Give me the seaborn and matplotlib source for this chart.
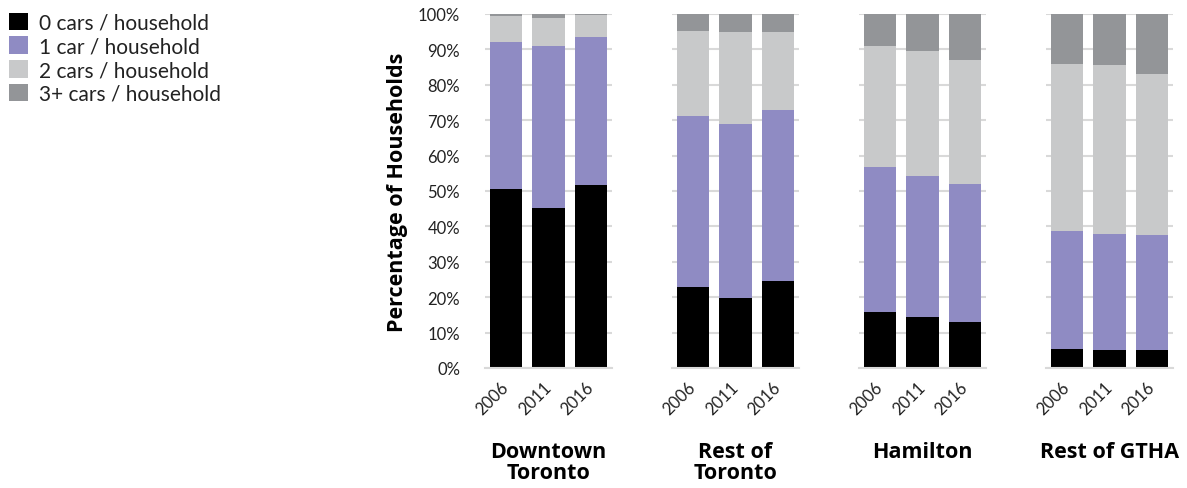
import matplotlib
matplotlib.use("Agg")
import matplotlib.pyplot as plt
import matplotlib.transforms as mtransforms
import seaborn as sns
import pandas as pd
import numpy as np
from matplotlib.patches import Patch

regions = ["Downtown\nToronto", "Rest of\nToronto", "Hamilton", "Rest of GTHA"]
years = ["2006", "2011", "2016"]
categories = ["0 cars / household", "1 car / household", "2 cars / household", "3+ cars / household"]

cars0 = [[50.6, 45.2, 51.7], [23.0, 19.8, 24.5], [15.8, 14.3, 13.0], [5.4, 5.1, 5.1]]
cars1 = [[41.6, 45.8, 41.8], [48.1, 49.1, 48.5], [41.0, 39.9, 39.1], [33.4, 32.8, 32.5]]
cars2 = [[7.1, 7.9, 6.2], [24.1, 26.1, 21.9], [34.1, 35.3, 34.9], [47.1, 47.7, 45.5]]
cars3 = [[0.7, 1.1, 0.3], [4.8, 5.0, 5.1], [9.1, 10.5, 13.0], [14.1, 14.4, 16.9]]

colors = ["#000000", "#8f8bc3", "#c8c9ca", "#939598"]

sns.set_theme(style="white")
plt.rcParams["font.family"] = ["Lato", "DejaVu Sans"]

W, H = 1187, 489
fig = plt.figure(figsize=(W / 100, H / 100), dpi=100)

lefts = [485, 672, 859, 1046]
ax_w = 127
top_px, bot_px = 15, 369

bold_font = ["Open Sans", "DejaVu Sans"]

layers = [cars0, cars1, cars2, cars3]
for i, reg in enumerate(regions):
    ax = fig.add_axes([lefts[i] / W, (H - bot_px) / H, ax_w / W, (bot_px - top_px) / H])
    vals = np.array([layers[k][i] for k in range(4)])
    cum = np.cumsum(vals, axis=0)
    cum = cum / cum[-1] * 100
    for k in range(3, -1, -1):
        df = pd.DataFrame({"year": years, "value": cum[k]})
        sns.barplot(data=df, x="year", y="value", color=colors[k], ax=ax,
                    width=0.77, saturation=1, edgecolor="none", linewidth=0, zorder=3)
    ax.set_ylim(0, 100)
    ax.set_xlim(-0.5, 2.5)
    ax.set_yticks(np.arange(0, 101, 10))
    ax.yaxis.grid(True, color="#d9d9d9", linewidth=1.5, zorder=0)
    ax.set_axisbelow(True)
    for s in ["top", "right", "left"]:
        ax.spines[s].set_visible(False)
    ax.spines["bottom"].set_color("#d9d9d9")
    ax.spines["bottom"].set_linewidth(1.5)
    ax.spines["bottom"].set_zorder(4)
    ax.set_xlabel("")
    ax.set_ylabel("")
    ax.set_xticks([0, 1, 2])
    ax.set_xticklabels(years, rotation=45, ha="right", va="center",
                       rotation_mode="anchor", fontsize=12, color="#222222")
    offset = mtransforms.ScaledTranslation(11 / 100, 0, fig.dpi_scale_trans)
    for lab in ax.get_xticklabels():
        lab.set_transform(lab.get_transform() + offset)
    ax.tick_params(axis="x", which="major", length=0, pad=12)
    ax.set_xticks([-0.5, 0.5, 1.5, 2.5], minor=True)
    ax.tick_params(axis="x", which="minor", length=6, width=1.5, color="#d9d9d9", direction="out")
    if i == 0:
        ax.set_yticklabels([f"{v}%" for v in range(0, 101, 10)], fontsize=12, color="#222222")
        ax.tick_params(axis="y", length=0, pad=18)
    else:
        ax.set_yticklabels([])
        ax.tick_params(axis="y", length=0)
    ax.text(0.5, -0.205, reg, transform=ax.transAxes, ha="center", va="top",
            fontsize=15.5, fontweight="bold", family=bold_font, color="#000000",
            linespacing=1.05)

fig.text(397 / W, 1 - 192 / H, "Percentage of Households", rotation=90,
         ha="center", va="center", fontsize=15.5, fontweight="bold", family=bold_font,
         color="#000000")

handles = [Patch(facecolor=c, edgecolor="none") for c in colors]
fig.legend(handles, categories, loc="upper left", bbox_to_anchor=(-0.004, 1.0),
           frameon=False, fontsize=15, handlelength=0.9, handleheight=0.9,
           handletextpad=0.55, labelspacing=0.18, borderaxespad=0.3,
           borderpad=0.35, labelcolor="#222222")

fig.savefig("out.png", dpi=100)
